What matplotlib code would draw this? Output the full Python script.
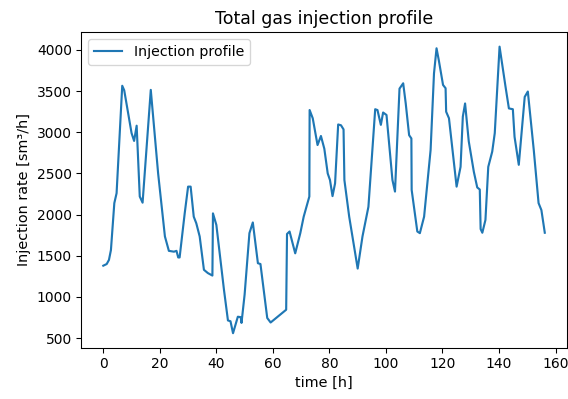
import matplotlib
matplotlib.use("Agg")
import matplotlib.pyplot as plt

# Time stamps [h] and total injection rate [sm3/h]
time_h = [
    0.0, 1.2, 2.0, 2.7, 3.9, 4.7, 6.7, 7.4, 10.0, 10.9, 11.8, 12.9, 13.9,
    16.8, 19.4, 21.8, 23.2, 25.0, 25.9, 26.5, 27.0, 28.8, 30.0, 30.9, 32.0,
    32.9, 34.1, 35.6, 37.0, 38.6, 38.8, 40.0, 42.7, 44.1, 45.0, 45.9, 47.6,
    48.6, 48.9, 50.0, 51.7, 52.9, 54.7, 55.6, 58.0, 59.2, 64.7, 65.0, 65.9,
    67.9, 69.7, 70.9, 72.9, 73.0, 74.1, 75.8, 77.0, 78.2, 79.4, 80.2, 81.1,
    82.0, 83.1, 84.1, 85.0, 85.3, 87.0, 90.0, 91.7, 93.8, 96.2, 97.0, 98.2,
    99.0, 100.2, 102.3, 103.2, 104.8, 106.1, 107.0, 108.2, 109.0, 109.1,
    111.1, 112.0, 113.5, 115.8, 117.0, 117.9, 118.7, 120.2, 121.1, 121.3,
    122.3, 125.0, 126.4, 127.2, 128.0, 129.3, 131.1, 132.3, 133.2, 133.5,
    134.1, 135.2, 136.2, 137.6, 138.5, 140.2, 142.3, 143.5, 144.9, 145.5,
    147.0, 149.1, 150.2, 152.3, 154.0, 155.0, 156.2,
]
injection_rate = [
    1380, 1400, 1450, 1570, 2140, 2260, 3565, 3510, 2990, 2895, 3080, 2220, 2145,
    3515, 2500, 1735, 1560, 1550, 1560, 1480, 1480, 2015, 2340, 2340, 1975,
    1895, 1735, 1330, 1290, 1260, 2015, 1875, 1085, 715, 705, 560, 760,
    755, 685, 1030, 1775, 1905, 1410, 1400, 745, 690, 845, 1765, 1795,
    1530, 1775, 1975, 2220, 3270, 3170, 2845, 2955, 2800, 2500, 2420, 2225,
    2380, 3095, 3085, 3035, 2420, 1975, 1345, 1735, 2095, 3280, 3270, 3090,
    3240, 3210, 2420, 2280, 3530, 3595, 3350, 2965, 2925, 2300,
    1795, 1775, 1975, 2785, 3715, 4020, 3875, 3575, 3535, 3250,
    3170, 2340, 2580, 3190, 3350, 2890, 2520, 2330, 2305, 1825,
    1780, 1935, 2580, 2765, 2990, 4040, 3555, 3290, 3280, 2945,
    2605, 3430, 3495, 2785, 2140, 2055, 1780,
]

DPI = 96
fig = plt.figure(figsize=(568 / DPI, 399 / DPI), dpi=DPI)
ax = fig.add_axes([0.143, 0.129, 0.855, 0.790])

ax.plot(time_h, injection_rate, color="#1f77b4", linewidth=1.6,
        label="Injection profile")

ax.set_title("Total gas injection profile", fontsize=13)
ax.set_xlabel("time [h]", fontsize=10.8)
ax.set_ylabel("Injection rate [sm³/h]", fontsize=10.8)
ax.set_xticks(range(0, 161, 20))
ax.set_yticks(range(500, 4001, 500))
ax.tick_params(labelsize=10.4)
ax.legend(loc="upper left", fontsize=10.6)

fig.savefig("out.png", dpi=DPI)
